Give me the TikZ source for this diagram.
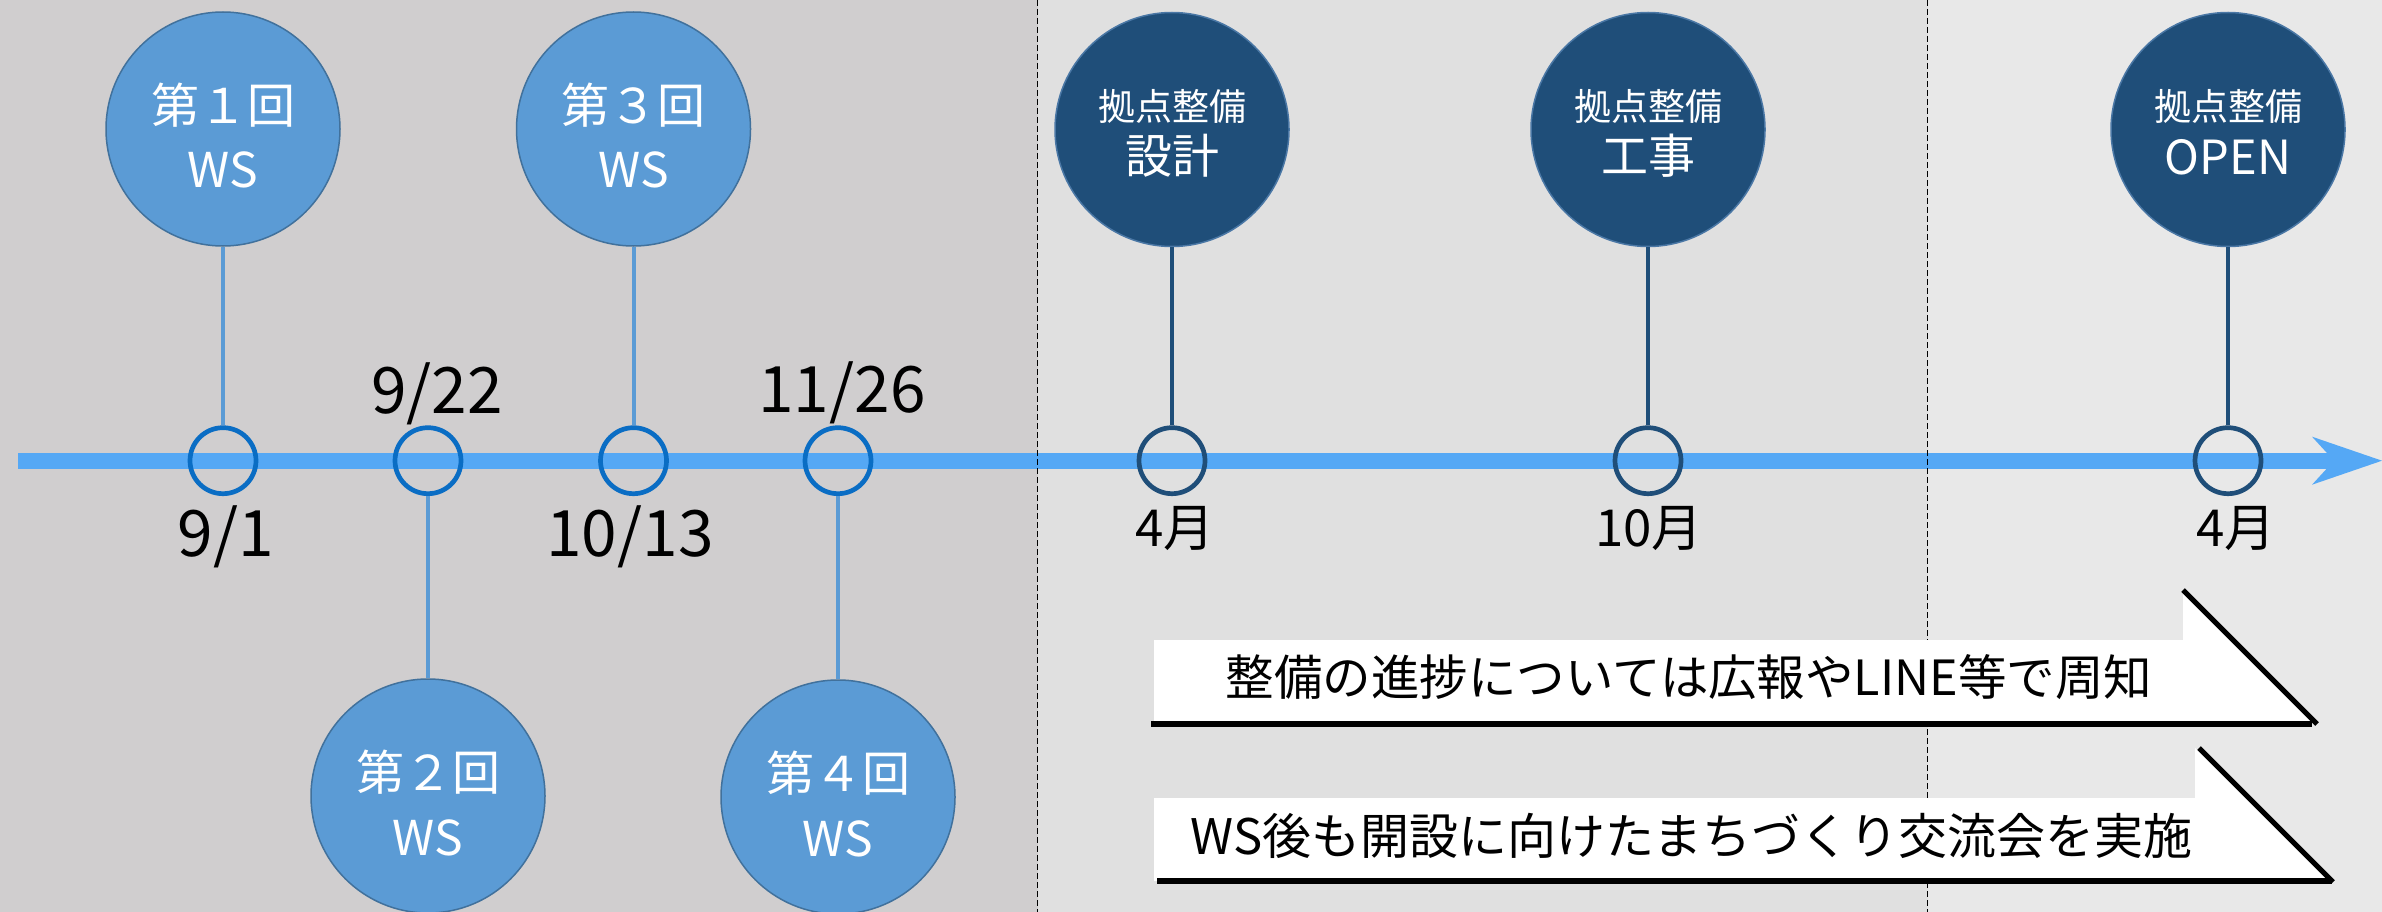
\documentclass[tikz,border=0pt]{standalone}
\usepackage{fontspec}
\setmainfont{Noto Sans CJK JP}
\usetikzlibrary{arrows.meta}
\definecolor{bgA}{HTML}{D0CECF}
\definecolor{bgB}{HTML}{E0E0E0}
\definecolor{bgC}{HTML}{E8E8E8}
\definecolor{tlineblue}{HTML}{55A8F5}
\definecolor{wsfill}{HTML}{5B9BD5}
\definecolor{wsedge}{HTML}{41719C}
\definecolor{ringblue}{HTML}{0A6DC4}
\definecolor{dkfill}{HTML}{1F4E79}
\definecolor{dkedge}{HTML}{4A77A5}
\begin{document}
\begin{tikzpicture}[x=1pt,y=-1pt,
  wsbig/.style={circle, fill=wsfill, draw=wsedge, line width=1.5pt, minimum size=234pt, inner sep=0pt},
  dkbig/.style={circle, fill=dkfill, draw=dkedge, line width=1.5pt, minimum size=234pt, inner sep=0pt},
  wsringst/.style={circle, draw=ringblue, line width=4.7pt, minimum size=66pt, inner sep=0pt},
  dkringst/.style={circle, draw=dkfill, line width=4.7pt, minimum size=66pt, inner sep=0pt},
  wsconn/.style={draw=wsfill, line width=4pt},
  dkconn/.style={draw=dkfill, line width=4pt},
  wstext/.style={text=white, anchor=base, inner sep=0pt, font=\fontsize{48pt}{58pt}\selectfont},
  dktop/.style={text=white, anchor=base, inner sep=0pt, font=\fontsize{37pt}{45pt}\selectfont},
  dkbot/.style={text=white, anchor=base, inner sep=0pt, font=\fontsize{47pt}{56pt}\selectfont},
  datetext/.style={text=black, anchor=base, inner sep=0pt, font=\fontsize{64pt}{76pt}\selectfont},
  monthtext/.style={text=black, anchor=base, inner sep=0pt, font=\fontsize{51pt}{60pt}\selectfont},
  calltextA/.style={text=black, anchor=base, inner sep=0pt, font=\fontsize{48.5pt}{56pt}\selectfont},
  calltextB/.style={text=black, anchor=base, inner sep=0pt, font=\fontsize{49pt}{56pt}\selectfont},
  sepline/.style={draw=black, line width=1.5pt, dash pattern=on 6pt off 3pt}
]
\useasboundingbox (0,0) rectangle (2382,912);
% backgrounds
\fill[bgA] (0,0) rectangle (1037.7,912);
\fill[bgB] (1037.7,0) rectangle (1927.7,912);
\fill[bgC] (1927.7,0) rectangle (2382,912);

% timeline
\coordinate (ts) at (18,460.7);
\coordinate (te) at (2382,460.7);
\draw[tlineblue, line width=16pt, -{Stealth[length=70pt,width=48pt,inset=22pt,line width=0pt]}] (ts) -- (te);

% separators
\draw[sepline] (1037.7,0) -- (1037.7,912);
\draw[sepline] (1927.7,0) -- (1927.7,912);

% rings on the timeline
\node[wsringst] (r1) at (223,460.7) {};
\node[wsringst] (r2) at (428,460.7) {};
\node[wsringst] (r3) at (633.5,460.7) {};
\node[wsringst] (r4) at (838,460.7) {};
\node[dkringst] (r5) at (1172,460.7) {};
\node[dkringst] (r6) at (1648,460.7) {};
\node[dkringst] (r7) at (2228,460.7) {};

% big circles
\node[wsbig] (w1) at (223,129) {};
\node[wsbig] (w2) at (428,796) {};
\node[wsbig] (w3) at (633.5,129) {};
\node[wsbig] (w4) at (838,797) {};
\node[dkbig] (k1) at (1172,129.5) {};
\node[dkbig] (k2) at (1648,129.5) {};
\node[dkbig] (k3) at (2228,129.5) {};

% connectors
\draw[wsconn] (w1) -- (r1);
\draw[wsconn] (w2) -- (r2);
\draw[wsconn] (w3) -- (r3);
\draw[wsconn] (w4) -- (r4);
\draw[dkconn] (k1) -- (r5);
\draw[dkconn] (k2) -- (r6);
\draw[dkconn] (k3) -- (r7);

% circle texts
\node[wstext] (w1a) at (223,124) {第１回};
\node[wstext] (w1b) at (223,188) {WS};
\node[wstext] (w2a) at (428,790) {第２回};
\node[wstext] (w2b) at (428,855) {WS};
\node[wstext] (w3a) at (633.5,124) {第３回};
\node[wstext] (w3b) at (633.5,188) {WS};
\node[wstext] (w4a) at (838,791) {第４回};
\node[wstext] (w4b) at (838,856) {WS};
\node[dktop] (k1a) at (1172,121) {拠点整備};
\node[dkbot] (k1b) at (1172,174) {設計};
\node[dktop] (k2a) at (1648,121) {拠点整備};
\node[dkbot] (k2b) at (1648,174) {工事};
\node[dktop] (k3a) at (2228,121) {拠点整備};
\node[dkbot] (k3b) at (2228,175) {OPEN};

% dates
\node[datetext] (d1) at (226,556) {9/1};
\node[datetext] (d2) at (437,413) {9/22};
\node[datetext] (d3) at (630,556.5) {10/13};
\node[datetext] (d4) at (842,412) {11/26};
\node[monthtext] (m5) at (1175,546) {4月};
\node[monthtext] (m6) at (1649,546) {10月};
\node[monthtext] (m7) at (2236,546) {4月};

% callouts
\fill[white] (1154,640) -- (2183,640) -- (2183,590) -- (2316,723) -- (1154,723) -- cycle;
\draw[line width=6pt] (1151,723.5) -- (2312,723.5);
\draw[line width=5pt] (2183,590) -- (2317,724);
\node[calltextA] (c1) at (1689,695) {整備の進捗については広報やLINE等で周知};

\fill[white] (1154,798) -- (2195,798) -- (2195,748) -- (2332,881) -- (1154,881) -- cycle;
\draw[line width=5.5pt] (1157,881) -- (2332,881);
\draw[line width=5pt] (2199,748) -- (2333,882);
\node[calltextB] (c2) at (1691.5,854) {WS後も開設に向けたまちづくり交流会を実施};
\end{tikzpicture}
\end{document}
